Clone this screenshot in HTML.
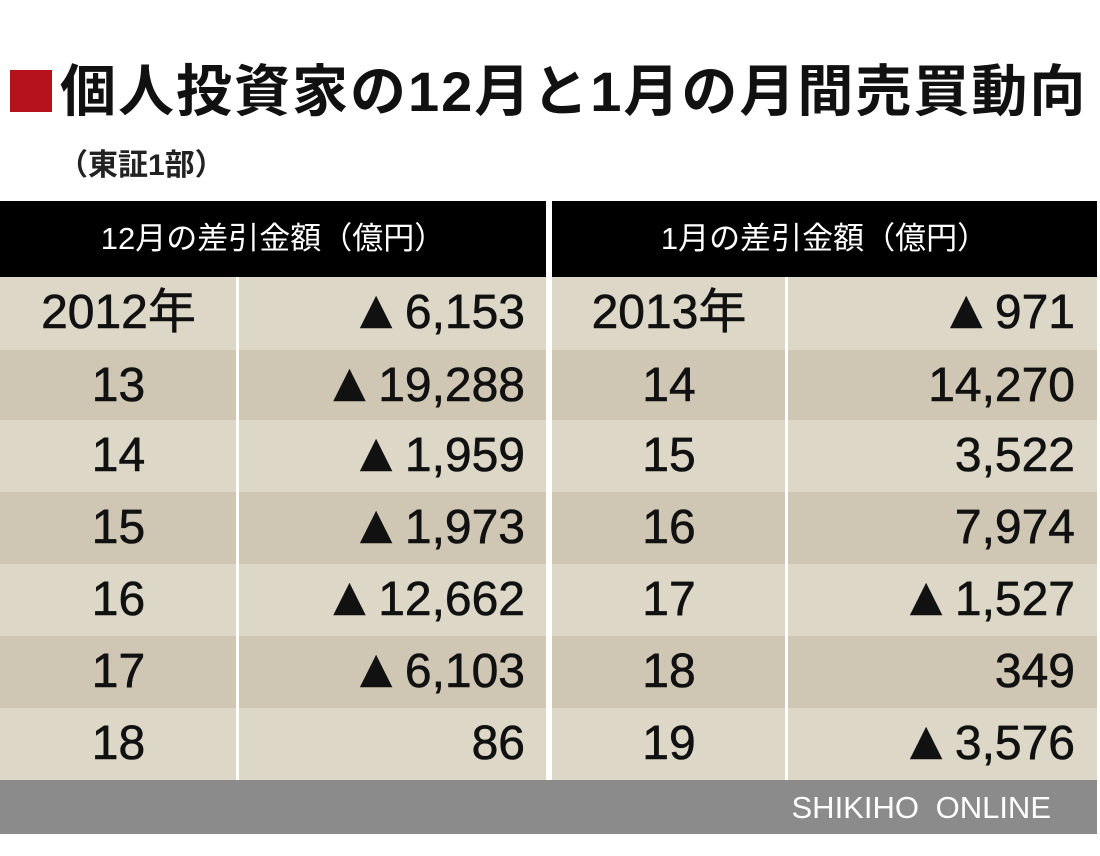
<!DOCTYPE html>
<html><head><meta charset="utf-8"><style>
body{margin:0;width:1100px;height:856px;background:#fff;position:relative;overflow:hidden;font-family:"Liberation Sans","Noto Sans CJK JP",sans-serif;}
.abs{position:absolute}
.title{left:60px;top:58px;font-size:56px;line-height:68px;font-weight:bold;color:#111;white-space:nowrap;letter-spacing:2px}
.sq{left:10px;top:70px;width:42px;height:42px;background:#b5121b}
.sub{left:58px;top:140px;font-size:30px;color:#222;white-space:nowrap;font-weight:bold}
.hdr{top:201px;height:76px;background:#000;color:#fff;font-size:31px;line-height:76px;text-align:center}
.row{height:70px;line-height:72px;font-size:48px;color:#111;-webkit-text-stroke:0.6px #111}
.c{position:absolute;top:0;height:100%}
.t{font-size:54px;line-height:0;margin-right:2px}
.vl{position:absolute;top:277px;width:3px;height:503px;background:#fff}
</style></head><body>
<div class="abs sq"></div>
<div class="abs title">個人投資家の12月と1月の月間売買動向</div>
<div class="abs sub">（東証1部）</div>
<div class="abs hdr" style="left:0;width:546px">12月の差引金額（億円）</div>
<div class="abs hdr" style="left:552px;width:545px">1月の差引金額（億円）</div>
<div class="abs" style="left:0;top:277px;width:1097px">
<div class="row" style="position:relative;background:#ddd7c7;height:73px"><span class="c" style="left:0;width:237px;text-align:center">2012年</span><span class="c" style="right:572px"><span class="t">▲</span>6,153</span><span class="c" style="left:552px;width:234px;text-align:center">2013年</span><span class="c" style="right:22px"><span class="t">▲</span>971</span></div>
<div class="row" style="position:relative;background:#cfc7b3"><span class="c" style="left:0;width:237px;text-align:center">13</span><span class="c" style="right:572px"><span class="t">▲</span>19,288</span><span class="c" style="left:552px;width:234px;text-align:center">14</span><span class="c" style="right:22px">14,270</span></div>
<div class="row" style="position:relative;background:#ddd7c7;height:72px"><span class="c" style="left:0;width:237px;text-align:center">14</span><span class="c" style="right:572px"><span class="t">▲</span>1,959</span><span class="c" style="left:552px;width:234px;text-align:center">15</span><span class="c" style="right:22px">3,522</span></div>
<div class="row" style="position:relative;background:#cfc7b3;height:72px"><span class="c" style="left:0;width:237px;text-align:center">15</span><span class="c" style="right:572px"><span class="t">▲</span>1,973</span><span class="c" style="left:552px;width:234px;text-align:center">16</span><span class="c" style="right:22px">7,974</span></div>
<div class="row" style="position:relative;background:#ddd7c7;height:72px"><span class="c" style="left:0;width:237px;text-align:center">16</span><span class="c" style="right:572px"><span class="t">▲</span>12,662</span><span class="c" style="left:552px;width:234px;text-align:center">17</span><span class="c" style="right:22px"><span class="t">▲</span>1,527</span></div>
<div class="row" style="position:relative;background:#cfc7b3;height:72px"><span class="c" style="left:0;width:237px;text-align:center">17</span><span class="c" style="right:572px"><span class="t">▲</span>6,103</span><span class="c" style="left:552px;width:234px;text-align:center">18</span><span class="c" style="right:22px">349</span></div>
<div class="row" style="position:relative;background:#ddd7c7;height:72px"><span class="c" style="left:0;width:237px;text-align:center">18</span><span class="c" style="right:572px">86</span><span class="c" style="left:552px;width:234px;text-align:center">19</span><span class="c" style="right:22px"><span class="t">▲</span>3,576</span></div>
</div>
<div class="vl" style="left:236px"></div>
<div class="vl" style="left:546px;width:6px;top:201px;height:579px"></div>
<div class="vl" style="left:785px"></div>
<div class="abs" style="left:0;top:780px;width:1097px;height:54px;background:#8b8b8b;color:#fff;font-size:31px;line-height:56px;text-align:right;box-sizing:border-box;padding-right:46px;word-spacing:8px">SHIKIHO ONLINE</div>
</body></html>
